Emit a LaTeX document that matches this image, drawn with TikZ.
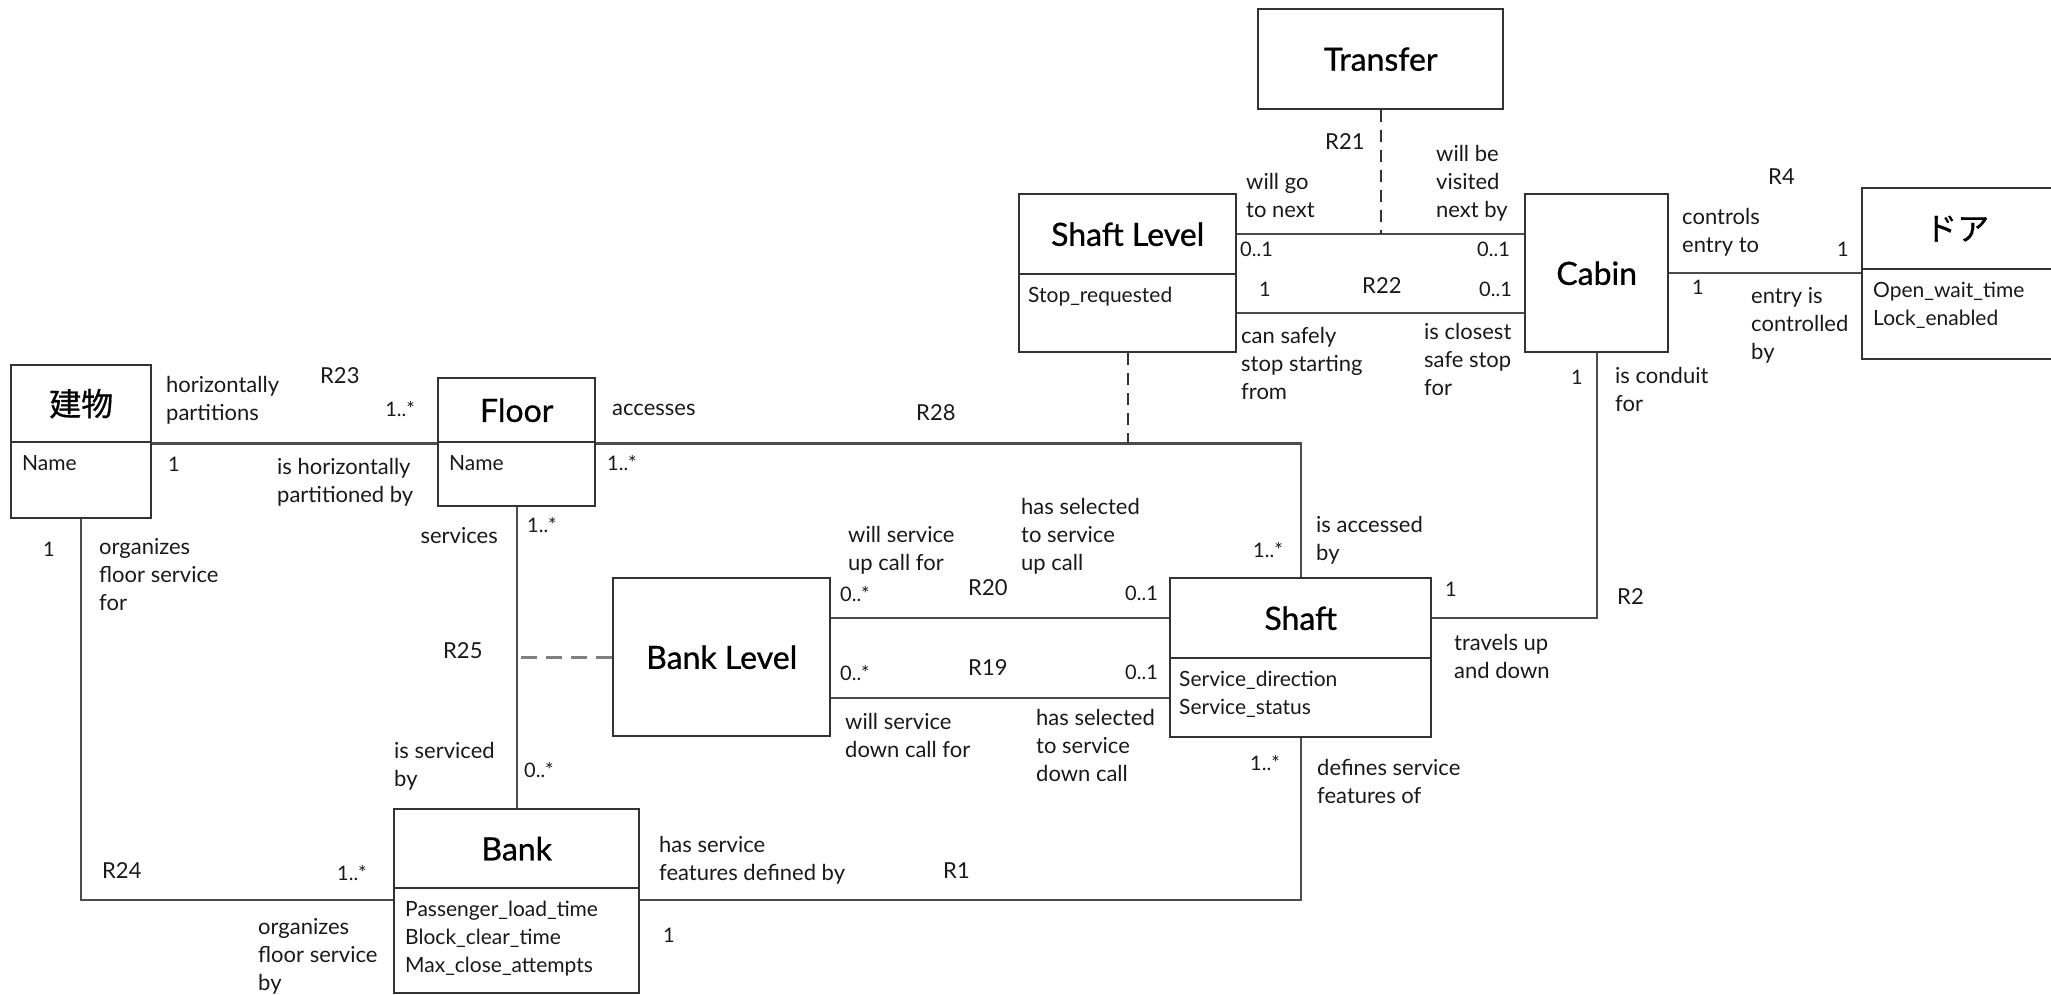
\documentclass[tikz,border=0pt]{standalone}
\usepackage{fontspec}
\setmainfont{Lato}
\newfontface\jpfont{Noto Sans CJK JP}[FakeBold=0.6]
\newfontface\titleface{Lato}[FakeBold=0.8]
\usetikzlibrary{positioning}
\newcommand\titlefont{\titleface\fontsize{32}{38}\selectfont}
\newcommand\attrfont{\fontsize{21}{28}\selectfont}
\newcommand\lblfont{\fontsize{22}{28}\selectfont}
\newcommand\multfont{\fontsize{20}{28}\selectfont}

\begin{document}
\begin{tikzpicture}[x=1pt, y=-1pt,
    box/.style={draw=black!80, line width=2.4pt, inner sep=0pt, anchor=north west, font=\titlefont, text=black},
    attrtext/.style={font=\attrfont, align=left, inner sep=0pt, text=black!90},
    lbl/.style={font=\lblfont, align=left, inner sep=0pt, anchor=north west, text=black!90},
    mult/.style={lbl, font=\multfont},
    conn/.style={draw=black!70, line width=2.3pt},
    assoc/.style={draw=black!50, line width=2.6pt, dash pattern=on 16pt off 9pt},
    linkdash/.style={draw=black!80, line width=1.6pt, dash pattern=on 12pt off 8pt}]
      \clip (0,0) rectangle (2051,995);
      \node[box, minimum width=140pt, minimum height=77pt] (bldgtop) at (10,364) {\jpfont 建物};
      \node[box, minimum width=140pt, minimum height=76pt] (bldgattr) at (10,441) {};
      \node[attrtext, below right=14pt and 12pt of bldgattr.north west] (bldgname) {Name};
      \node[box, minimum width=157pt, minimum height=64pt] (floortop) at (437,377) {Floor};
      \node[box, minimum width=157pt, minimum height=64pt] (floorattr) at (437,441) {};
      \node[attrtext, below right=14pt and 12pt of floorattr.north west] (floorname) {Name};
      \node[box, minimum width=217pt, minimum height=158pt] (banklevel) at (612,577) {Bank Level};
      \node[box, minimum width=261pt, minimum height=80pt] (shafttop) at (1169,577) {Shaft};
      \node[box, minimum width=261pt, minimum height=79pt] (shaftattr) at (1169,657) {};
      \node[attrtext, below right=14pt and 10pt of shaftattr.north west] (shaftattrs) {Service\_direction\\Service\_status};
      \node[box, minimum width=245pt, minimum height=79pt] (banktop) at (393,808) {Bank};
      \node[box, minimum width=245pt, minimum height=105pt] (bankattr) at (393,887) {};
      \node[attrtext, below right=14pt and 12pt of bankattr.north west] (bankattrs) {Passenger\_load\_time\\Block\_clear\_time\\Max\_close\_attempts};
      \node[box, minimum width=217pt, minimum height=80pt] (sleveltop) at (1018,193) {Shaft Level};
      \node[box, minimum width=217pt, minimum height=78pt] (slevelattr) at (1018,273) {};
      \node[attrtext, below right=14pt and 10pt of slevelattr.north west] (slevelattrs) {Stop\_requested};
      \node[box, minimum width=245pt, minimum height=100pt] (transfer) at (1257,8) {Transfer};
      \node[box, minimum width=143pt, minimum height=158pt] (cabin) at (1524,193) {Cabin};
      \node[box, minimum width=240pt, minimum height=81pt] (doortop) at (1861,187) {\hspace*{-50pt}\jpfont ドア};
      \node[box, minimum width=240pt, minimum height=90pt] (doorattr) at (1861,268) {};
      \node[attrtext, below right=14pt and 12pt of doorattr.north west] (doorattrs) {Open\_wait\_time\\Lock\_enabled};
      \draw[conn] (bldgtop.south east) -- (floortop.south west);
      \draw[conn] (bldgattr.south) |- ([yshift=-13pt]bankattr.north west);
      \draw[conn] (floorattr.south) -- (banktop.north);
      \draw[assoc] (banklevel.west) -- (banklevel.west -| floorattr.south);
      \draw[conn] (floortop.south east) -| (shafttop.north);
      \draw[linkdash] (slevelattr.south) -- (slevelattr.south |- floortop.south east);
      \draw[conn] (banklevel.east |- shafttop.west) -- (shafttop.west);
      \draw[conn] (banklevel.east |- shaftattr.west) -- (shaftattr.west);
      \draw[conn] ([yshift=-13pt]bankattr.north east) -| (shaftattr.south);
      \draw[conn] (shafttop.east) -| (cabin.south);
      \draw[conn] (cabin.east) -- (cabin.east -| doorattr.west);
      \draw[conn] (sleveltop.east) -- (sleveltop.east -| cabin.west);
      \draw[conn] (slevelattr.east) -- (slevelattr.east -| cabin.west);
      \draw[linkdash] (transfer.south) -- (transfer.south |- sleveltop.east);
      \node[lbl] (r23a) at (166,376) {horizontally\\partitions};
      \node[lbl] (r23) at (320,367) {R23};
      \node[mult, anchor=north east] (r23m) at (415,401) {1..*};
      \node[mult] (r23n) at (168,457) {1};
      \node[lbl] (r23b) at (277,458) {is horizontally\\partitioned by};
      \node[mult] (r24n) at (43,542) {1};
      \node[lbl] (r24a) at (99,538) {organizes\\floor service\\for};
      \node[lbl] (r24) at (102,862) {R24};
      \node[mult] (r24m) at (337,865) {1..*};
      \node[lbl] (r24b) at (258,918) {organizes\\floor service\\by};
      \node[lbl, anchor=north east] (r25a) at (498,527) {services};
      \node[mult] (r25m) at (527,517) {1..*};
      \node[lbl] (r25) at (443,642) {R25};
      \node[lbl] (r25b) at (394,742) {is serviced\\by};
      \node[mult] (r25n) at (524,762) {0..*};
      \node[lbl] (r28a) at (612,404) {accesses};
      \node[mult] (r28m) at (607,455) {1..*};
      \node[lbl] (r28) at (916,404) {R28};
      \node[mult] (r28n) at (1253,542) {1..*};
      \node[lbl] (r28b) at (1316,516) {is accessed\\by};
      \node[lbl] (r20a) at (848,526) {will service\\up call for};
      \node[lbl] (r20b) at (1021,498) {has selected\\to service\\up call};
      \node[mult] (r20m) at (840,586) {0..*};
      \node[lbl] (r20) at (968,579) {R20};
      \node[mult] (r20n) at (1125,586) {0..1};
      \node[mult] (r19m) at (840,665) {0..*};
      \node[lbl] (r19) at (968,659) {R19};
      \node[mult] (r19n) at (1125,665) {0..1};
      \node[lbl] (r19a) at (845,713) {will service\\down call for};
      \node[lbl] (r19b) at (1036,709) {has selected\\to service\\down call};
      \node[lbl] (r1a) at (659,836) {has service\\features defined by};
      \node[lbl] (r1) at (943,862) {R1};
      \node[mult] (r1n) at (663,928) {1};
      \node[mult] (r1m) at (1250,755) {1..*};
      \node[lbl] (r1b) at (1317,759) {defines service\\features of};
      \node[mult] (r2n) at (1445,582) {1};
      \node[lbl] (r2) at (1617,588) {R2};
      \node[lbl] (r2a) at (1454,634) {travels up\\and down};
      \node[mult] (r2m) at (1571,370) {1};
      \node[lbl] (r2b) at (1615,367) {is conduit\\for};
      \node[lbl] (r4) at (1768,169) {R4};
      \node[lbl] (r4a) at (1682,208) {controls\\entry to};
      \node[mult] (r4n) at (1837,242) {1};
      \node[mult] (r4m) at (1692,280) {1};
      \node[lbl] (r4b) at (1751,287) {entry is\\controlled\\by};
      \node[lbl] (r21) at (1325,133) {R21};
      \node[lbl] (r21a) at (1246,173) {will go\\to next};
      \node[lbl] (r21b) at (1436,145) {will be\\visited\\next by};
      \node[mult] (r21m) at (1240,242) {0..1};
      \node[mult] (r21n) at (1477,242) {0..1};
      \node[mult] (r22m) at (1259,282) {1};
      \node[lbl] (r22) at (1362,277) {R22};
      \node[mult] (r22n) at (1479,282) {0..1};
      \node[lbl] (r22a) at (1241,327) {can safely\\stop starting\\from};
      \node[lbl] (r22b) at (1424,323) {is closest\\safe stop\\for};
\end{tikzpicture}
\end{document}
